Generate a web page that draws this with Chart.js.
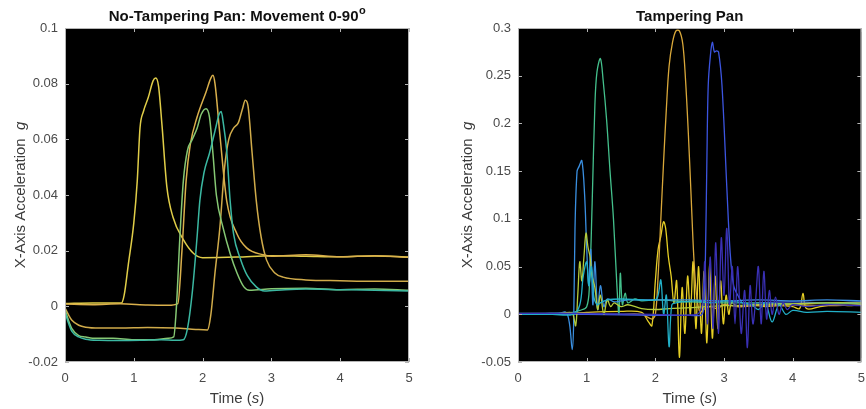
<!DOCTYPE html>
<html><head><meta charset="utf-8">
<script src="https://cdn.jsdelivr.net/npm/chart.js@4"></script>
<style>
html,body{margin:0;padding:0;background:#fff;width:866px;height:409px;overflow:hidden}
.box{position:absolute;top:0;height:409px}
#b1{left:0;width:433px} #b2{left:433px;width:441px}
</style></head><body>
<div class="box" id="b1"><canvas id="c1"></canvas></div>
<div class="box" id="b2"><canvas id="c2"></canvas></div>
<script>
// ---------- Left panel: No-Tampering Pan ----------
const leftTimeA = [0,0.4,0.82,0.86,0.92,1.0,1.05,1.09,1.14,1.21,1.28,1.32,1.36,1.41,1.48,1.57,1.72,1.87,2.0,2.5,3,3.5,4,4.5,5];
const leftAccA  = [0.001,0.0012,0.0012,0.004,0.015,0.03,0.045,0.064,0.070,0.075,0.081,0.082,0.079,0.065,0.043,0.032,0.024,0.019,0.0175,0.0177,0.0182,0.018,0.0178,0.0181,0.0177];
const leftTimeB = [0,0.4,0.8,1.2,1.5,1.64,1.70,1.76,1.82,1.92,2.05,2.12,2.15,2.18,2.25,2.35,2.5,2.64,2.88,3.0,3.5,4,4.5,5];
const leftAccB  = [0.0008,0.0006,0.0009,0.0005,0.0004,0.001,0.02,0.045,0.058,0.068,0.077,0.082,0.083,0.080,0.062,0.038,0.026,0.021,0.0185,0.018,0.0185,0.0178,0.0182,0.0176];
const leftTimeC = [0,0.05,0.1,0.2,0.3,0.5,0.8,1.2,1.6,1.9,2.07,2.12,2.18,2.25,2.32,2.38,2.45,2.52,2.58,2.62,2.66,2.72,2.78,2.85,2.93,3.05,3.17,3.5,4,4.5,5];
const leftAccC  = [-0.0005,-0.003,-0.005,-0.0068,-0.0075,-0.0078,-0.0078,-0.0076,-0.0078,-0.0083,-0.0085,-0.003,0.012,0.028,0.050,0.060,0.064,0.066,0.071,0.074,0.072,0.055,0.038,0.025,0.0166,0.012,0.0105,0.0095,0.0092,0.009,0.0090];
const leftTimeD = [0,0.05,0.1,0.2,0.3,0.4,0.7,1.0,1.3,1.5,1.58,1.62,1.67,1.72,1.78,1.85,1.92,1.98,2.05,2.1,2.15,2.2,2.3,2.4,2.5,2.6,2.68,3.0,3.5,4,4.5,5];
const leftAccD  = [-0.001,-0.005,-0.008,-0.0105,-0.011,-0.0115,-0.0115,-0.012,-0.012,-0.0115,-0.011,0.0,0.025,0.045,0.056,0.060,0.064,0.069,0.071,0.068,0.055,0.040,0.028,0.019,0.012,0.007,0.0058,0.0063,0.0065,0.006,0.0062,0.0058];
const leftTimeE = [0,0.05,0.1,0.2,0.3,0.5,0.8,1.1,1.4,1.6,1.72,1.78,1.85,1.92,1.96,2.02,2.1,2.18,2.24,2.27,2.3,2.35,2.4,2.45,2.55,2.65,2.78,2.9,3.2,3.5,4,4.5,5];
const leftAccE  = [-0.002,-0.006,-0.009,-0.011,-0.0118,-0.0122,-0.0123,-0.0122,-0.012,-0.0122,-0.012,-0.008,0.005,0.025,0.038,0.048,0.055,0.063,0.069,0.070,0.066,0.056,0.038,0.026,0.017,0.011,0.007,0.0055,0.006,0.0062,0.006,0.0058,0.0055];

const leftYTicks  = [-0.02,0,0.02,0.04,0.06,0.08,0.1];
const leftYLabels = ['-0.02','0','0.02','0.04','0.06','0.08','0.1'];
const xTicks  = [0,1,2,3,4,5];
const xLabels = ['0','1','2','3','4','5'];

// ---------- Right panel: Tampering Pan ----------
const rightTime1 = [0,0.3,0.6,0.7,0.75,0.79,0.81,0.83,0.86,0.89,0.93,0.97,1.0,1.03,1.06,1.09,1.12,1.16,1.2,1.25,1.3,1.4,1.5,1.6,1.8,2.0,2.5,3.0,3.5,4.0,4.5,5];
const rightAcc1  = [0.0,0.0,0.001,0.002,-0.01,-0.037,-0.01,0.09,0.15,0.155,0.161,0.125,0.07,0.03,0.068,0.01,0.055,0.005,0.03,0.008,0.016,0.013,0.014,0.015,0.015,0.015,0.015,0.014,0.015,0.014,0.015,0.014];
const rightTime2 = [0,0.4,0.8,0.9,1.0,1.04,1.08,1.12,1.15,1.2,1.24,1.29,1.34,1.39,1.44,1.47,1.49,1.52,1.56,1.6,1.7,1.8,2.0,2.5,3,3.5,4,4.5,5];
const rightAcc2  = [0.001,0.001,0.002,0.004,0.008,0.03,0.117,0.22,0.254,0.268,0.245,0.204,0.15,0.10,0.03,0.0,0.043,0.01,0.022,0.012,0.016,0.014,0.015,0.013,0.012,0.012,0.011,0.012,0.011];
const rightTime3 = [0,0.5,1.0,1.5,1.8,1.95,2.0,2.04,2.08,2.12,2.16,2.2,2.25,2.3,2.35,2.4,2.44,2.48,2.52,2.56,2.6,2.65,2.7,2.8,2.9,3.0,3.2,3.5,4,4.5,5];
const rightAcc3  = [0.0,0.0,0.0,0.0,0.0,-0.005,0.0,0.04,0.10,0.16,0.215,0.26,0.285,0.297,0.297,0.283,0.245,0.19,0.125,0.06,0.02,0.002,0.005,0.008,0.006,0.01,0.008,0.009,0.01,0.009,0.01];
const rightTime4 = [0,1,2,2.5,2.68,2.71,2.73,2.75,2.77,2.8,2.83,2.86,2.89,2.92,2.97,3.04,3.09,3.14,3.2,3.3,3.5,4,4.5,5];
const rightAcc4  = [0.0,0.0,-0.001,-0.001,0.0,0.02,0.064,0.16,0.24,0.27,0.285,0.275,0.276,0.275,0.24,0.134,0.064,0.03,0.02,0.01,0.012,0.013,0.012,0.013];
const rightTime5 = [0,1,2,2.6,2.68,2.72,2.76,2.8,2.84,2.88,2.92,2.96,3.0,3.04,3.08,3.12,3.16,3.2,3.25,3.3,3.34,3.38,3.42,3.46,3.5,3.54,3.58,3.62,3.66,3.7,3.75,3.8,3.86,3.92,4.0,4.2,4.5,5];
const rightAcc5  = [0.001,0.001,0.0,0.0,0.01,0.055,-0.01,0.06,-0.015,0.075,-0.02,0.08,0.02,0.09,0.01,0.05,-0.01,0.05,-0.02,0.025,-0.035,0.03,-0.01,0.015,0.05,-0.01,0.045,-0.005,0.025,0.0,0.018,0.0,0.012,0.005,0.01,0.008,0.01,0.009];
const rightTime6 = [0,0.5,1.0,1.5,1.8,1.9,1.95,2.0,2.04,2.08,2.12,2.15,2.19,2.23,2.27,2.31,2.35,2.39,2.43,2.47,2.51,2.55,2.59,2.63,2.67,2.71,2.75,2.79,2.83,2.87,2.91,2.95,2.99,3.03,3.07,3.11,3.2,3.4,3.6,3.8,4.0,4.1,4.15,4.2,4.4,4.6,4.8,5];
const rightAcc6  = [0.0,0.0,0.002,0.003,0.002,-0.008,-0.012,0.035,0.068,0.082,0.097,0.09,0.06,0.04,0.012,0.035,-0.045,0.028,-0.02,0.04,0.0,0.055,-0.015,0.05,-0.02,0.045,-0.03,0.052,-0.025,0.04,-0.015,0.035,-0.01,0.02,0.0,0.012,0.008,0.01,0.008,0.009,0.008,0.006,0.022,0.006,0.008,0.01,0.009,0.01];
const rightTime7 = [0,0.5,0.8,0.9,0.95,1.0,1.03,1.07,1.1,1.15,1.2,1.3,1.5,1.8,2.0,2.04,2.08,2.12,2.16,2.2,2.24,2.3,2.4,2.6,2.8,3.0,3.2,3.4,3.5,3.6,3.7,3.8,3.9,4.0,4.2,4.5,5];
const rightAcc7  = [0.0,0.0,0.0,0.01,0.04,0.055,0.03,0.05,0.02,0.01,0.012,0.015,0.016,0.015,0.015,0.02,0.036,0.0,0.02,-0.034,0.01,0.012,0.013,0.014,0.012,0.014,0.013,0.01,0.005,0.012,-0.008,0.01,0.0,0.004,0.002,0.003,0.002];
const rightTime8 = [0,0.5,0.75,0.8,0.84,0.87,0.9,0.93,0.96,0.99,1.02,1.05,1.08,1.12,1.16,1.2,1.25,1.3,1.35,1.4,1.5,1.6,1.8,2.0,2.2,2.5,3,3.5,4,4.5,5];
const rightAcc8  = [0.0,0.0,0.002,0.0,-0.012,0.02,0.055,0.035,0.06,0.085,0.07,0.06,0.04,0.028,0.005,0.02,0.0,0.015,0.008,0.012,0.008,0.01,0.006,0.005,0.006,0.007,0.009,0.01,0.011,0.012,0.012];

const rightYTicks  = [-0.05,0,0.05,0.1,0.15,0.2,0.25,0.3];
const rightYLabels = ['-0.05','0','0.05','0.1','0.15','0.2','0.25','0.3'];

// styles
const leftColors  = ['#e0cd48','#dab04c','#d0ab4a','#86c874','#3bb8a2'];
const rightColors = ['#3a8fe0','#44c08c','#d9a83a','#3c55e0','#3a30b4','#e6cf25','#22b0c8','#b5cc3a'];

function pairs(t, v){ return t.map((x,i)=>({x:x, y:v[i]})); }

const leftSeries  = [[leftTimeE,leftAccE],[leftTimeD,leftAccD],[leftTimeC,leftAccC],[leftTimeB,leftAccB],[leftTimeA,leftAccA]];
const leftSeriesColors = [leftColors[4],leftColors[3],leftColors[2],leftColors[1],leftColors[0]];
const rightSeries = [[rightTime5,rightAcc5],[rightTime7,rightAcc7],[rightTime8,rightAcc8],[rightTime1,rightAcc1],[rightTime2,rightAcc2],[rightTime4,rightAcc4],[rightTime3,rightAcc3],[rightTime6,rightAcc6]];
const rightSeriesColors = [rightColors[4],rightColors[6],rightColors[7],rightColors[0],rightColors[1],rightColors[3],rightColors[2],rightColors[5]];

const FONT = '"Liberation Sans", Arial, Helvetica, sans-serif';

const axesPlugin = {
  id: 'matlabAxes',
  beforeDatasetsDraw(chart){
    const a = chart.chartArea, ctx = chart.ctx;
    ctx.save(); ctx.fillStyle = '#000'; ctx.fillRect(a.left, a.top, a.right-a.left, a.bottom-a.top); ctx.restore();
  },
  afterDraw(chart){
    const a = chart.chartArea, ctx = chart.ctx, o = chart.options.plugins.matlabAxes;
    ctx.save();
    ctx.strokeStyle = '#b5b5b5'; ctx.lineWidth = 1;
    ctx.strokeRect(a.left+0.5, a.top+0.5, a.right-a.left-1, a.bottom-a.top-1);
    const xs = chart.scales.x, ys = chart.scales.y, L = 4;
    ctx.beginPath();
    xs.ticks.forEach(t=>{ const p = Math.round(xs.getPixelForValue(t.value))+0.5;
      ctx.moveTo(p,a.bottom); ctx.lineTo(p,a.bottom-L); ctx.moveTo(p,a.top); ctx.lineTo(p,a.top+L); });
    ys.ticks.forEach(t=>{ const p = Math.round(ys.getPixelForValue(t.value))+0.5;
      ctx.moveTo(a.left,p); ctx.lineTo(a.left+L,p); ctx.moveTo(a.right,p); ctx.lineTo(a.right-L,p); });
    ctx.stroke();
    // title
    const cx = (a.left+a.right)/2;
    ctx.fillStyle = '#111'; ctx.textBaseline = 'alphabetic';
    ctx.font = 'bold 15px ' + FONT;
    const w1 = ctx.measureText(o.title).width;
    let supW = 0;
    if (o.titleSup){ ctx.font = 'bold 11px ' + FONT; supW = ctx.measureText(o.titleSup).width; }
    let x0 = cx - (w1+supW)/2;
    ctx.font = 'bold 15px ' + FONT; ctx.textAlign = 'left';
    ctx.fillText(o.title, x0, 21);
    if (o.titleSup){ ctx.font = 'bold 11px ' + FONT; ctx.fillText(o.titleSup, x0+w1+0.5, 14); }
    // x-axis title: Time (s)
    ctx.fillStyle = '#3c3c3c';
    const parts = [['Time (','normal'],['s','italic'],[')','normal']];
    const drawParts = (ps, y) => {
      let tw = 0; ps.forEach(p=>{ ctx.font = p[1]+' 15px '+FONT; tw += ctx.measureText(p[0]).width; });
      let x = -tw/2; ps.forEach(p=>{ ctx.font = p[1]+' 15px '+FONT; ctx.fillText(p[0], x, y); x += ctx.measureText(p[0]).width; });
    };
    ctx.save(); ctx.translate(cx, 0); drawParts(parts, 403); ctx.restore();
    // y-axis title
    ctx.save(); ctx.translate(o.yTitleX, (a.top+a.bottom)/2); ctx.rotate(-Math.PI/2);
    drawParts([['X-Axis Acceleration  ','normal'],['g','italic']], 5);
    ctx.restore();
    ctx.restore();
  }
};

function makeChart(id, series, colors, ymin, ymax, yTicks, yLabels, yAxisWidth, rightPad, title, sup, yTitleX, tension, lw){
  return new Chart(document.getElementById(id), {
    type: 'line',
    data: { datasets: series.map((s,i)=>({ data: pairs(s[0], s[1]), borderColor: colors[i], borderWidth: lw,
      pointRadius: 0, tension: tension, cubicInterpolationMode: tension ? 'default' : 'monotone', fill: false })) },
    options: {
      responsive: true, maintainAspectRatio: false, animation: false,
      layout: { padding: { left: 0, right: rightPad, top: 28, bottom: 0 } },
      plugins: { legend: { display: false }, tooltip: { enabled: false },
        matlabAxes: { title: title, titleSup: sup, yTitleX: yTitleX } },
      scales: {
        x: { type: 'linear', min: 0, max: 5,
          afterBuildTicks: s => { s.ticks = xTicks.map(v=>({value:v})); },
          ticks: { callback: (v,i) => xLabels[i], color: '#4a4a4a', font: { size: 13, family: FONT }, padding: 9, maxRotation: 0 },
          grid: { display: false, drawTicks: false }, border: { display: false },
          afterFit: s => { s.height = 47; } },
        y: { type: 'linear', min: ymin, max: ymax,
          afterBuildTicks: s => { s.ticks = yTicks.map(v=>({value:v})); },
          ticks: { callback: (v,i) => yLabels[i], color: '#4a4a4a', font: { size: 13, family: FONT }, padding: 7 },
          grid: { display: false, drawTicks: false }, border: { display: false },
          afterFit: s => { s.width = yAxisWidth; } }
      }
    },
    plugins: [axesPlugin]
  });
}

makeChart('c1', leftSeries, leftSeriesColors, -0.02, 0.1, leftYTicks, leftYLabels, 65, 24,
  'No-Tampering Pan: Movement 0-90', 'o', 20, 0, 1.5);
makeChart('c2', rightSeries, rightSeriesColors, -0.05, 0.3, rightYTicks, rightYLabels, 85, 5,
  'Tampering Pan', '', 34, 0.35, 1.3);
</script>
</body></html>
